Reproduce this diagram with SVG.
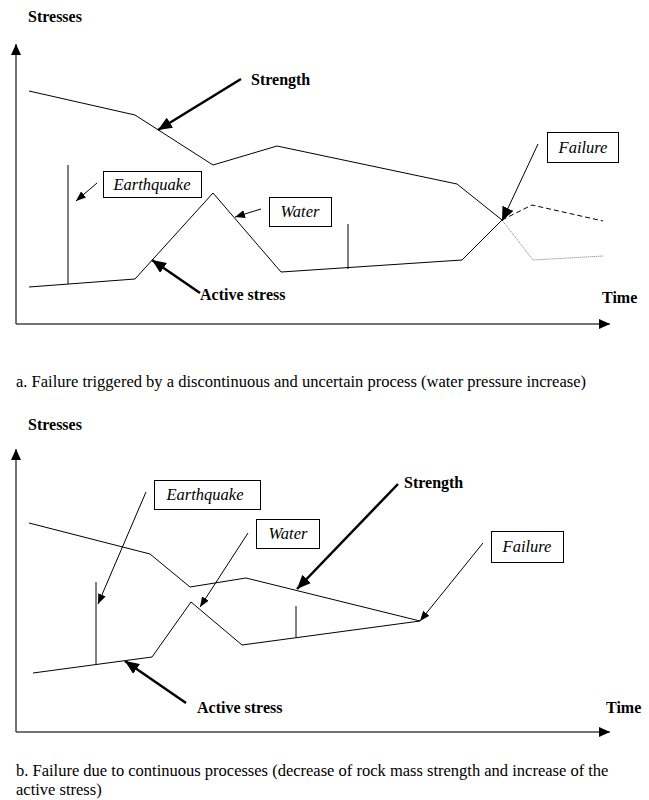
<svg xmlns="http://www.w3.org/2000/svg" width="649" height="800" viewBox="0 0 649 800">
<style>
.bg{fill:#fff}
.axis{stroke:#444;stroke-width:1.5;fill:none}
.curve{stroke:#000;stroke-width:1;fill:none}
.thin{stroke:#000;stroke-width:1;fill:none}
.bold{stroke:#000;stroke-width:2.5;fill:none}
.box{fill:#fff;stroke:#000;stroke-width:1}
text{font-family:'Liberation Serif','DejaVu Serif',serif}
.lbl{font-size:16px;font-weight:bold;fill:#000}
.it{font-size:16.5px;font-style:italic;fill:#000;text-anchor:middle}
.cap{font-size:16.5px;fill:#000}
</style>
<defs>
<marker id="ah-axis" viewBox="0 0 11 10" refX="11" refY="5" markerWidth="11" markerHeight="10" markerUnits="userSpaceOnUse" orient="auto"><path d="M0,0L11,5L0,10z" fill="#000"/></marker>
<marker id="ah-thin" viewBox="0 0 10 8" refX="10" refY="4" markerWidth="10" markerHeight="8" markerUnits="userSpaceOnUse" orient="auto"><path d="M0,0L10,4L0,8z" fill="#000"/></marker>
<marker id="ah-bold" viewBox="0 0 14 12" refX="14" refY="6" markerWidth="14" markerHeight="12" markerUnits="userSpaceOnUse" orient="auto"><path d="M0,0L14,6L0,12z" fill="#000"/></marker>
</defs>
<rect class="bg" x="0" y="0" width="649" height="800"/>

<!-- Panel a -->
<g id="a-axes">
<line class="axis" x1="16" y1="324" x2="16" y2="44" marker-end="url(#ah-axis)"/>
<line class="axis" x1="16" y1="324" x2="610" y2="324" marker-end="url(#ah-axis)"/>
</g>
<g id="a-stresses"><text class="lbl" x="28" y="22">Stresses</text></g>
<g id="a-time"><text class="lbl" x="602" y="303">Time</text></g>
<g id="a-strength-curve">
<polyline class="curve" points="29,91 135,115 213,165 277,146 457,184 502,220"/>
<polyline class="curve" points="502,220 532,205 603,221" stroke-dasharray="5,3"/>
</g>
<g id="a-active-curve">
<polyline class="curve" points="29,287 135,279 213,193 281,272 462,260 502,220"/>
<polyline points="502,220 533,260 603,256" fill="none" stroke="#777" stroke-width="1" stroke-dasharray="1,1"/>
<line class="curve" x1="68" y1="165" x2="68" y2="284"/>
<line class="curve" x1="348" y1="224" x2="348" y2="269"/>
</g>
<g id="a-strength-label"><text class="lbl" x="251" y="85">Strength</text></g>
<g id="a-active-label"><text class="lbl" x="200" y="300">Active stress</text></g>
<g id="a-earthquake"><rect class="box" x="103.5" y="171.5" width="98" height="26"/><text class="it" x="152" y="190">Earthquake</text></g>
<g id="a-water"><rect class="box" x="269.5" y="197.5" width="62" height="29"/><text class="it" x="300" y="217">Water</text></g>
<g id="a-failure"><rect class="box" x="547.5" y="132.5" width="71" height="30"/><text class="it" x="583" y="153">Failure</text></g>
<g id="a-connectors">
<line class="bold" x1="241" y1="79" x2="158" y2="130" marker-end="url(#ah-bold)"/>
<line class="bold" x1="200" y1="293" x2="152" y2="260" marker-end="url(#ah-bold)"/>
<line class="thin" x1="97" y1="183" x2="76" y2="201" marker-end="url(#ah-thin)"/>
<line class="thin" x1="261" y1="209" x2="235" y2="217" marker-end="url(#ah-thin)"/>
<line class="thin" x1="538" y1="144" x2="502" y2="221" marker-end="url(#ah-bold)"/>
</g>
<g id="a-caption"><text class="cap" x="16" y="387">a. Failure triggered by a discontinuous and uncertain process (water pressure increase)</text></g>

<!-- Panel b -->
<g id="b-axes">
<line class="axis" x1="16" y1="732" x2="16" y2="449" marker-end="url(#ah-axis)"/>
<line class="axis" x1="16" y1="732" x2="610" y2="732" marker-end="url(#ah-axis)"/>
</g>
<g id="b-stresses"><text class="lbl" x="28" y="430">Stresses</text></g>
<g id="b-time"><text class="lbl" x="606" y="713">Time</text></g>
<g id="b-strength-curve">
<polyline class="curve" points="29,523 150,554 190,587 246,578 420,621"/>
</g>
<g id="b-active-curve">
<polyline class="curve" points="33,673 152,657 191,602 242,645 420,621"/>
<line class="curve" x1="96" y1="582" x2="96" y2="665"/>
<line class="curve" x1="296" y1="606" x2="296" y2="637"/>
</g>
<g id="b-strength-label"><text class="lbl" x="404" y="488">Strength</text></g>
<g id="b-active-label"><text class="lbl" x="197" y="713">Active stress</text></g>
<g id="b-earthquake"><rect class="box" x="154.5" y="480.5" width="106" height="29"/><text class="it" x="205" y="500">Earthquake</text></g>
<g id="b-water"><rect class="box" x="256.5" y="519.5" width="63" height="29"/><text class="it" x="288" y="539">Water</text></g>
<g id="b-failure"><rect class="box" x="491.5" y="531.5" width="72" height="31"/><text class="it" x="527" y="552">Failure</text></g>
<g id="b-connectors">
<line class="bold" x1="398" y1="484" x2="297" y2="589" marker-end="url(#ah-bold)"/>
<line class="bold" x1="186" y1="703" x2="125" y2="661" marker-end="url(#ah-bold)"/>
<line class="thin" x1="146" y1="492" x2="98" y2="604" marker-end="url(#ah-thin)"/>
<line class="thin" x1="248" y1="533" x2="200" y2="607" marker-end="url(#ah-thin)"/>
<line class="thin" x1="483" y1="543" x2="420" y2="621" marker-end="url(#ah-thin)"/>
</g>
<g id="b-caption">
<text class="cap" x="16" y="776">b. Failure due to continuous processes (decrease of rock mass strength and increase of the</text>
<text class="cap" x="16" y="795">active stress)</text>
</g>
</svg>
